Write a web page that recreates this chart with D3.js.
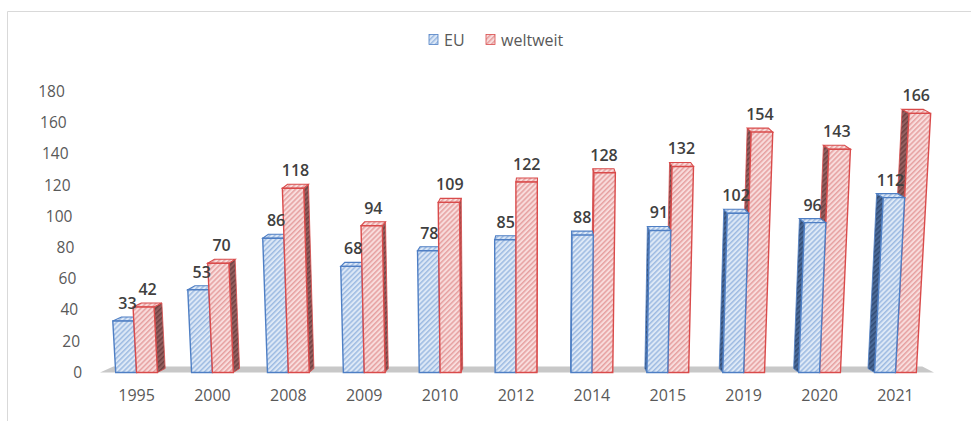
<!DOCTYPE html>
<html><head><meta charset="utf-8">
<script src="https://cdn.jsdelivr.net/npm/d3@7"></script>
<style>
html,body{margin:0;padding:0;background:#fff;}
text{font-family:"Open Sans","Noto Sans",sans-serif;}
</style></head>
<body>
<svg id="chart" width="971" height="421"></svg>
<script>
const years = ["1995","2000","2008","2009","2010","2012","2014","2015","2019","2020","2021"];
const euValues = [33,53,86,68,78,85,88,91,102,96,112];
const worldValues = [42,70,118,94,109,122,128,132,154,143,166];
const seriesNames = ["EU","weltweit"];
const yTicks = [0,20,40,60,80,100,120,140,160,180];

const svg = d3.select("#chart");

// frame
svg.append("path").attr("d","M7.5,421 L7.5,11.5 L971,11.5")
  .attr("fill","none").attr("stroke","#d9d9d9").attr("stroke-width",1);

const BASE = 372.5;
const y = d3.scaleLinear().domain([0,180]).range([BASE, 91.5]);
const x = d3.scaleBand().domain(years).range([99,933]).paddingInner(0.45).paddingOuter(0.22);
const xs = d3.scaleBand().domain(seriesNames).range([0, x.bandwidth()]);

// pseudo-3D projection
const CX = 520, A = 0.00014, VX = 545, K = 0.02, D = 4;
function P(px, h, z){
  return [CX + (px - CX)*(1 + A*h) + (VX - px)*K*z, BASE - h - D*z];
}
const poly = pts => "M" + pts.map(p => p[0].toFixed(2)+","+p[1].toFixed(2)).join("L") + "Z";

// patterns
const defs = svg.append("defs");
function hatch(id, bg, line){
  const p = defs.append("pattern").attr("id",id).attr("patternUnits","userSpaceOnUse")
    .attr("width",3.6).attr("height",3.6).attr("patternTransform","rotate(45)");
  p.append("rect").attr("width",3.6).attr("height",3.6).attr("fill",bg);
  p.append("line").attr("x1",0.8).attr("y1",0).attr("x2",0.8).attr("y2",3.6)
    .attr("stroke",line).attr("stroke-width",1.1);
}
hatch("hEU","#dde8f6","#86aadb");
hatch("hW","#f8dcdc","#e08a8a");
hatch("sEU","#4a6a98","#2a4066");
hatch("sW","#946060","#623636");

const style = {
  EU: {front:"url(#hEU)", side:"url(#sEU)", stroke:"#4f7fc4"},
  weltweit: {front:"url(#hW)", side:"url(#sW)", stroke:"#d94b4b"}
};

// floor
svg.append("path")
  .attr("d", poly([P(100,0,0),P(934,0,0),P(934,0,1.5),P(100,0,1.5)]))
  .attr("fill","#c8c8c8");

// y axis labels (follow perspective lean)
const yAxisG = svg.append("g");
yAxisG.selectAll("text").data(yTicks).enter().append("text")
  .attr("x", d => P(82, BASE - y(d), 0)[0])
  .attr("y", d => y(d))
  .attr("dy","0.35em")
  .attr("text-anchor","end")
  .attr("font-size",15.5)
  .attr("fill","#595959")
  .text(d => d);

// x axis labels via axis
const xAxis = d3.axisBottom(x).tickSize(0).tickPadding(0);
const xg = svg.append("g").attr("transform","translate(0,389)").call(xAxis);
xg.select(".domain").remove();
xg.selectAll("text").attr("font-size",16).attr("fill","#595959")
  .attr("font-family",'"Open Sans","Noto Sans",sans-serif').attr("dy","0.75em");

// bars
const bars = [];
years.forEach((yr,i) => {
  const c = x(yr) + x.bandwidth()/2;
  const items = [
    {name:"EU", year:yr, v:euValues[i]},
    {name:"weltweit", year:yr, v:worldValues[i]}
  ];
  if (c >= VX) items.reverse();
  items.forEach(it => bars.push(it));
});

const g = svg.append("g");
bars.forEach(b => {
  const x0 = x(b.year) + xs(b.name), x1 = x0 + xs.bandwidth();
  const h = BASE - y(b.v);
  const st = style[b.name];
  const bg = g.append("g");
  const mid = (x0+x1)/2;
  const sideX = mid < VX ? x1 : x0;
  bg.append("path").attr("d", poly([P(sideX,0,0),P(sideX,h,0),P(sideX,h,1),P(sideX,0,1)]))
    .attr("fill", st.side).attr("stroke", st.stroke).attr("stroke-width",0.8);
  bg.append("path").attr("d", poly([P(x0,h,0),P(x1,h,0),P(x1,h,1),P(x0,h,1)]))
    .attr("fill", st.front).attr("stroke", st.stroke).attr("stroke-width",1.1);
  bg.append("path").attr("d", poly([P(x0,0,0),P(x1,0,0),P(x1,h,0),P(x0,h,0)]))
    .attr("fill", st.front).attr("stroke", st.stroke).attr("stroke-width",1.4);
});

// data labels
const lg = svg.append("g");
bars.forEach(b => {
  const x0 = x(b.year) + xs(b.name), x1 = x0 + xs.bandwidth();
  const h = BASE - y(b.v);
  const p = P((x0+x1)/2, h, 0.5);
  lg.append("text").attr("x", p[0]).attr("y", BASE - h - 12)
    .attr("text-anchor","middle").attr("font-size",16).attr("font-weight",600)
    .attr("fill","#404040").text(b.v);
});

// legend
const legend = svg.append("g");
const legX = [429, 486];
seriesNames.forEach((n,i) => {
  legend.append("rect").attr("x",legX[i]).attr("y",34.5).attr("width",9).attr("height",10)
    .attr("fill", style[n].front).attr("stroke", style[n].stroke).attr("stroke-width",0.8);
  legend.append("text").attr("x",legX[i]+15).attr("y",45.5)
    .attr("font-size",16).attr("fill","#595959").text(n);
});
</script>
</body></html>
